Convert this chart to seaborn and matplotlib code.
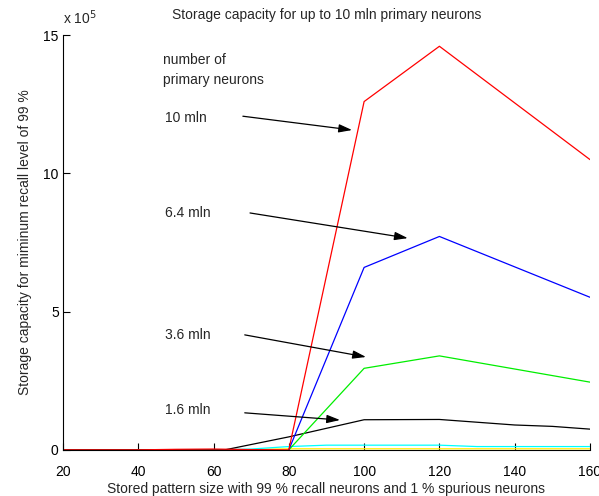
import matplotlib
matplotlib.use("Agg")
import matplotlib.pyplot as plt
import pandas as pd
import seaborn as sns

# stored pattern size (x) and storage capacity in units of 1e5 (y)
x_10mln = [20, 30, 40, 50, 60, 70, 80, 100, 120, 160]
y_10mln = [0, 0, 0, 0.02, 0.03, 0.01, 0, 12.6, 14.6, 10.5]

x_6_4mln = [80, 100, 120, 160]
y_6_4mln = [0, 6.6, 7.72, 5.52]

x_3_6mln = [80, 100, 120, 160]
y_3_6mln = [0, 2.95, 3.4, 2.45]

x_1_6mln = [20, 40, 60, 63, 80, 100, 120, 130, 140, 150, 160]
y_1_6mln = [0, 0, 0, 0, 0.47, 1.09, 1.1, 1.0, 0.9, 0.85, 0.75]

x_small1 = [20, 60, 70, 80, 90, 100, 120, 130, 160]
y_small1 = [0, 0, 0.03, 0.12, 0.17, 0.17, 0.17, 0.12, 0.12]

x_small2 = [20, 60, 70, 80, 100, 120, 160]
y_small2 = [0, 0, 0.01, 0.04, 0.04, 0.04, 0.04]

series = [
    ("10 mln", x_10mln, y_10mln, "#ff0000"),
    ("6.4 mln", x_6_4mln, y_6_4mln, "#0000ff"),
    ("3.6 mln", x_3_6mln, y_3_6mln, "#00ee00"),
    ("1.6 mln", x_1_6mln, y_1_6mln, "#000000"),
    ("small 1", x_small1, y_small1, "#00ffff"),
    ("small 2", x_small2, y_small2, "#ffee00"),
]

# label text, text position, arrow tip
labels = ["10 mln", "6.4 mln", "3.6 mln", "1.6 mln"]
label_xy = [(47.0, 12.0), (47.0, 8.57), (47.0, 4.16), (47.0, 1.45)]
arrow_start = [(67.8, 12.07), (69.7, 8.57), (68.3, 4.16), (68.3, 1.34)]
arrow_end = [(96.8, 11.57), (111.6, 7.66), (100.5, 3.36), (93.6, 1.08)]

sns.set_style("ticks")
plt.rcParams["font.family"] = ["Liberation Sans", "DejaVu Sans"]
plt.rcParams["xtick.direction"] = "in"
plt.rcParams["ytick.direction"] = "in"

fig = plt.figure(figsize=(5.99, 4.96), dpi=100)
ax = fig.add_axes([0.105, 0.093, 0.88, 0.836])

frames = []
for name, xs, ys, _ in series:
    frames.append(pd.DataFrame({"size": xs, "capacity": ys, "series": name}))
df = pd.concat(frames, ignore_index=True)

# draw small ones first so big curves sit on top
order = [s[0] for s in series][::-1]
palette = {s[0]: s[3] for s in series}
for name in order:
    sub = df[df["series"] == name]
    sns.lineplot(data=sub, x="size", y="capacity", color=palette[name],
                 linewidth=0.9, sort=False, estimator=None, ax=ax, legend=False)

ax.set_xlim(20, 160)
ax.set_ylim(0, 15)
ax.set_xticks(range(20, 161, 20))
ax.set_yticks([0, 5, 10, 15])
ax.tick_params(labelsize=10, length=5, width=0.8, colors="black")
ax.tick_params(axis="x", pad=11)
ax.tick_params(axis="y", pad=3)
sns.despine(ax=ax)
for sp in ("left", "bottom"):
    ax.spines[sp].set_color("black")
    ax.spines[sp].set_linewidth(0.8)

ax.set_xlabel("Stored pattern size with 99 % recall neurons and 1 % spurious neurons",
              fontsize=10, labelpad=2)
ax.set_ylabel("Storage capacity for miminum recall level of 99 %", fontsize=10,
              labelpad=8)
ax.set_title("Storage capacity for up to 10 mln primary neurons", fontsize=10, pad=12)
ax.text(0.0, 1.02, r"x 10$^5$", transform=ax.transAxes, fontsize=10,
        ha="left", va="bottom")

ax.text(46.6, 14.1, "number of", fontsize=10, va="center")
ax.text(46.6, 13.38, "primary neurons", fontsize=10, va="center")
for lab, pos, start, end in zip(labels, label_xy, arrow_start, arrow_end):
    ax.text(pos[0], pos[1], lab, fontsize=10, va="center")
    ax.annotate("", xy=end, xytext=start,
                arrowprops=dict(arrowstyle="-|>,head_length=0.8,head_width=0.25",
                                color="black", lw=0.9, shrinkA=0, shrinkB=0))

fig.savefig("out.png", dpi=100)
